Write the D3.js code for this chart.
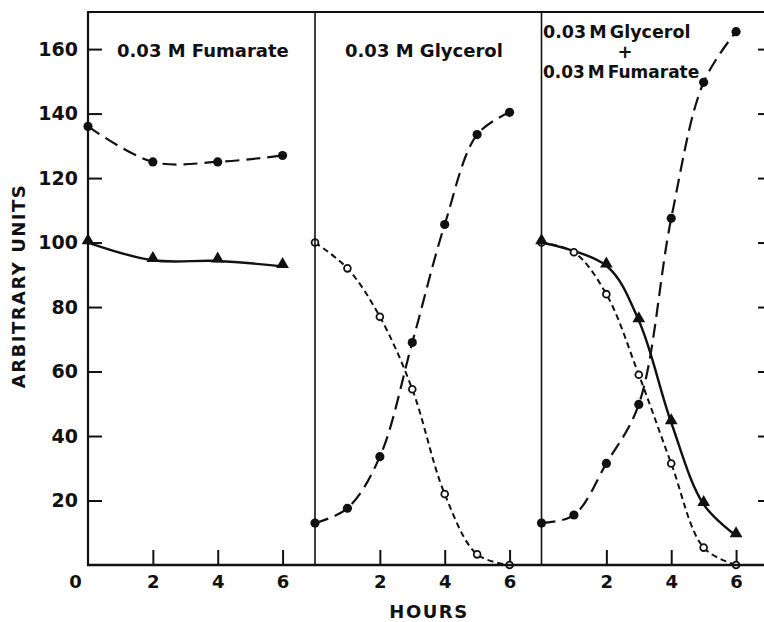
<!DOCTYPE html>
<html>
<head>
<meta charset="utf-8">
<script src="https://cdn.jsdelivr.net/npm/d3@7"></script>
<style>
  body { margin: 0; background: #fff; }
  svg text { font-family: "DejaVu Sans", sans-serif; font-weight: bold; fill: #111; }
</style>
</head>
<body>
<svg id="chart" width="764" height="622"></svg>
<script>
// values
var yTicks = [20, 40, 60, 80, 100, 120, 140, 160];
var xTicks = [2, 4, 6];
var hours = [0, 1, 2, 3, 4, 5, 6];

// panel 1: 0.03 M Fumarate
var fumHours = [0, 2, 4, 6];
var fumFilled = [136, 125, 125, 127];
var fumTri = [100, 94.5, 94.3, 92.6];

// panel 2: 0.03 M Glycerol
var glyOpen = [100, 92, 77, 54.5, 22, 3.3, 0];
var glyFilled = [13, 17.6, 33.6, 69, 105.6, 133.5, 140.4];

// panel 3: glycerol + fumarate
var bothTriHours = [0, 2, 3, 4, 5, 6];
var bothTri = [100, 92.8, 75.8, 44.2, 18.8, 9.1];
var bothOpen = [100, 97, 84, 59, 31.5, 5.4, 0];
var bothFilled = [13, 15.5, 31.5, 49.8, 107.5, 149.7, 165.4];

var panelLeft = [88, 315, 541.5];
var panelW = 227;
var plotTop = 12, plotBottom = 565;

var svg = d3.select("#chart");
var y = d3.scaleLinear().domain([0, 171.5]).range([plotBottom, plotTop]);

function zip(xs, ys) { return xs.map(function(h, i){ return [h, ys[i]]; }); }

var panels = [
  { series: [
      { pts: zip(fumHours, fumFilled), mark: "filled", dash: "14,7", w: 2.2 },
      { pts: zip(fumHours, fumTri), mark: "tri", dash: null, w: 2.4 }
  ]},
  { series: [
      { pts: zip(hours, glyOpen), mark: "open", dash: "6,4", w: 2 },
      { pts: zip(hours, glyFilled), mark: "filled", dash: "14,7", w: 2.2 }
  ]},
  { series: [
      { pts: zip(hours, bothOpen), mark: "open", dash: "6,4", w: 2 },
      { pts: zip(hours, bothFilled), mark: "filled", dash: "14,7", w: 2.2 },
      { pts: zip(bothTriHours, bothTri), mark: "tri", dash: null, w: 2.4 }
  ]}
];

// left axis ticks and labels
svg.append("g")
  .attr("transform", "translate(" + panelLeft[0] + ",0)")
  .call(d3.axisLeft(y).tickValues(yTicks).tickFormat(d3.format("d")).tickSize(-14).tickSizeOuter(0).tickPadding(10))
  .call(function(g){ g.select(".domain").remove(); })
  .call(function(g){
    g.selectAll("line").attr("stroke", "#111").attr("stroke-width", 2);
    g.selectAll("text").style("font-size", "19px").attr("fill", "#111");
  });

// right axis ticks (frame edge just off the picture)
svg.append("g")
  .attr("transform", "translate(771,0)")
  .call(d3.axisRight(y).tickValues(yTicks).tickSize(-13).tickFormat(""))
  .call(function(g){ g.select(".domain").remove(); })
  .selectAll("line").attr("stroke", "#111").attr("stroke-width", 2);

panels.forEach(function(p, i){
  var x = d3.scaleLinear().domain([0, 7]).range([panelLeft[i], panelLeft[i] + panelW]);
  svg.append("g")
    .attr("transform", "translate(0," + plotBottom + ")")
    .call(d3.axisBottom(x).tickValues(xTicks).tickFormat(d3.format("d")).tickSize(-15).tickPadding(10))
    .call(function(g){ g.select(".domain").remove(); })
    .call(function(g){
      g.selectAll("line").attr("stroke", "#111").attr("stroke-width", 2);
      g.selectAll("text").style("font-size", "18px").attr("fill", "#111");
    });

  var line = d3.line()
    .x(function(d){ return x(d[0]); })
    .y(function(d){ return y(d[1]); })
    .curve(d3.curveCatmullRom.alpha(0.5));

  p.series.forEach(function(s){
    svg.append("path")
      .attr("d", line(s.pts))
      .attr("fill", "none")
      .attr("stroke", "#111")
      .attr("stroke-width", s.w)
      .attr("stroke-dasharray", s.dash);
  });

  p.series.forEach(function(s){
    var g = svg.append("g");
    if (s.mark === "tri") {
      g.selectAll("path").data(s.pts).join("path")
        .attr("transform", function(d){ return "translate(" + x(d[0]) + "," + (y(d[1]) - 2) + ")"; })
        .attr("d", d3.symbol(d3.symbolTriangle, 70))
        .attr("fill", "#111");
    } else {
      g.selectAll("circle").data(s.pts).join("circle")
        .attr("cx", function(d){ return x(d[0]); })
        .attr("cy", function(d){ return y(d[1]); })
        .attr("r", s.mark === "filled" ? 4.6 : 3.4)
        .attr("fill", s.mark === "filled" ? "#111" : "#fff")
        .attr("stroke", "#111")
        .attr("stroke-width", s.mark === "filled" ? 0 : 1.8);
    }
  });
});

// frame
var frame = svg.append("g").attr("stroke", "#111");
frame.append("line").attr("x1", panelLeft[0]).attr("x2", panelLeft[0]).attr("y1", plotTop).attr("y2", plotBottom + 1).attr("stroke-width", 2.2);
frame.append("line").attr("x1", panelLeft[0] - 1).attr("x2", 771).attr("y1", plotBottom).attr("y2", plotBottom).attr("stroke-width", 2.6);
frame.append("line").attr("x1", panelLeft[0] - 1).attr("x2", 771).attr("y1", plotTop).attr("y2", plotTop).attr("stroke-width", 2);
[panelLeft[1], panelLeft[2]].forEach(function(px){
  frame.append("line").attr("x1", px).attr("x2", px).attr("y1", plotTop).attr("y2", plotBottom).attr("stroke-width", 1.6);
});

// origin label
svg.append("text").attr("x", 75.5).attr("y", 587.5).attr("text-anchor", "middle").style("font-size", "18px").text("0");

// axis titles
svg.append("text")
  .attr("transform", "translate(25,286) rotate(-90)")
  .attr("text-anchor", "middle")
  .style("font-size", "18px").style("letter-spacing", "1.5px")
  .text("ARBITRARY UNITS");
svg.append("text")
  .attr("x", 429).attr("y", 618)
  .attr("text-anchor", "middle")
  .style("font-size", "18px").style("letter-spacing", "1.5px")
  .text("HOURS");

// panel titles
svg.append("text").attr("x", 117).attr("y", 57).style("font-size", "18px").text("0.03 M Fumarate");
svg.append("text").attr("x", 345).attr("y", 57).style("font-size", "18px").text("0.03 M Glycerol");
svg.append("text").attr("x", 543).attr("y", 37.5).style("font-size", "17.5px").style("word-spacing", "-3px").text("0.03 M Glycerol");
svg.append("text").attr("x", 625).attr("y", 57.5).attr("text-anchor", "middle").style("font-size", "18px").text("+");
svg.append("text").attr("x", 543).attr("y", 77.5).style("font-size", "17px").style("word-spacing", "-3px").text("0.03 M Fumarate");
</script>
</body>
</html>
